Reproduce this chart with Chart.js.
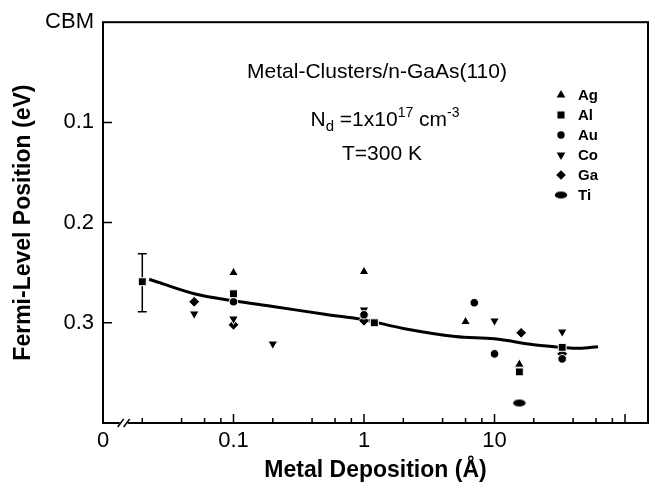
<!DOCTYPE html>
<html lang="en">
<head>
  <meta charset="UTF-8">
  <title>Metal-Clusters / n-GaAs(110) Fermi-Level Position</title>
  <script src="https://cdn.jsdelivr.net/npm/chart.js"></script>
  <style>
    html, body { margin: 0; padding: 0; background: #ffffff; }
    canvas { display: block; }
  </style>
</head>
<body>
  <canvas id="fermiChart" width="655" height="489"></canvas>

  <script>
    // data (x in Angstrom, y in eV below CBM)
    const agX = [0.1, 1, 6, 15.5];
    const agY = [0.250, 0.249, 0.299, 0.3415];
    const alX = [0.02, 0.1, 1.2, 15.5, 33];
    const alY = [0.259, 0.271, 0.300, 0.349, 0.3245];
    const auX = [0.1, 1, 7, 10, 33];
    const auY = [0.279, 0.292, 0.280, 0.331, 0.336];
    const coX = [0.05, 0.1, 0.2, 1, 10, 33];
    const coY = [0.291, 0.296, 0.321, 0.287, 0.298, 0.309];
    const gaX = [0.05, 0.1, 1, 16, 33];
    const gaY = [0.279, 0.302, 0.298, 0.310, 0.331];
    const tiX = [15.5];
    const tiY = [0.380];

    // error bar on the first point
    const errX = [0.02];
    const errY = [0.26];
    const errD = [0.029];

    // fitted curve
    const curveX = [0.0226, 0.05, 0.1, 0.2, 0.5, 1, 2, 5, 10, 20, 33, 45, 62];
    const curveY = [0.2565, 0.271, 0.278, 0.2837, 0.2915, 0.297, 0.3056, 0.3137, 0.316, 0.322, 0.3245, 0.3255, 0.3238];

    const xTicks = [0.01, 0.02, 0.04, 0.06, 0.08, 0.1, 0.2, 0.4, 0.6, 0.8, 1, 2, 4, 6, 8, 10, 20, 40, 60, 80, 100];
    const xLabels = { 0.01: '0', 0.1: '0.1', 1: '1', 10: '10' };
    const yTicks = [0, 0.1, 0.2, 0.3, 0.4];
    const yLabels = { 0: 'CBM', 0.1: '0.1', 0.2: '0.2', 0.3: '0.3' };

    const metals = ['Ag', 'Al', 'Au', 'Co', 'Ga', 'Ti'];

    const FONT = "'Liberation Sans', Arial, sans-serif";

    function ovalImage() {
      const c = document.createElement('canvas');
      c.width = 16; c.height = 11;
      const g = c.getContext('2d');
      g.fillStyle = '#fff';
      g.beginPath(); g.ellipse(8, 5.5, 7.8, 5.3, 0, 0, Math.PI * 2); g.fill();
      g.fillStyle = '#000';
      g.beginPath(); g.ellipse(8, 5.5, 6.2, 3.6, 0, 0, Math.PI * 2); g.fill();
      return c;
    }
    const tiOval = ovalImage();

    const markStyle = {
      Ag: { pointStyle: 'triangle', radius: 5.6, rotation: 0 },
      Al: { pointStyle: 'rect', radius: 5.6, rotation: 0 },
      Au: { pointStyle: 'circle', radius: 4.3, rotation: 0 },
      Co: { pointStyle: 'triangle', radius: 5.6, rotation: 180 },
      Ga: { pointStyle: 'rectRot', radius: 5.4, rotation: 0 },
      Ti: { pointStyle: tiOval, radius: 6, rotation: 0 }
    };

    const pts = (xs, ys) => xs.map((x, i) => ({ x: x, y: ys[i] }));
    const metalData = { Ag: pts(agX, agY), Al: pts(alX, alY), Au: pts(auX, auY), Co: pts(coX, coY), Ga: pts(gaX, gaY), Ti: pts(tiX, tiY) };

    const markerSets = metals.map(m => ({
      type: 'scatter',
      label: m,
      data: metalData[m],
      pointStyle: markStyle[m].pointStyle,
      pointRadius: markStyle[m].radius,
      pointRotation: markStyle[m].rotation,
      backgroundColor: '#000',
      borderColor: '#fff',
      pointBorderWidth: 1,
      order: 0
    }));

    // frame, inward ticks, axis break, error bar, annotations, legend
    const decorPlugin = {
      id: 'decor',
      beforeDatasetsDraw(chart) {
        const ctx = chart.ctx;
        const xs = chart.scales.x, ys = chart.scales.y;
        ctx.save();
        ctx.strokeStyle = '#000';
        ctx.lineWidth = 1.5;
        errX.forEach((x, i) => {
          const px = xs.getPixelForValue(x);
          const top = ys.getPixelForValue(errY[i] - errD[i]);
          const bot = ys.getPixelForValue(errY[i] + errD[i]);
          ctx.beginPath();
          ctx.moveTo(px, top); ctx.lineTo(px, bot);
          ctx.moveTo(px - 4.5, top); ctx.lineTo(px + 4.5, top);
          ctx.moveTo(px - 4.5, bot); ctx.lineTo(px + 4.5, bot);
          ctx.stroke();
        });
        ctx.restore();
      },
      afterDraw(chart) {
        const ctx = chart.ctx;
        const a = chart.chartArea;
        const xs = chart.scales.x, ys = chart.scales.y;
        ctx.save();
        ctx.strokeStyle = '#000';
        ctx.lineWidth = 2;
        ctx.strokeRect(a.left, a.top, a.right - a.left, a.bottom - a.top);

        // inward ticks
        ctx.lineWidth = 1.5;
        ctx.beginPath();
        xTicks.forEach(v => {
          if (v === 0.01) return;
          const px = xs.getPixelForValue(v);
          const major = Math.abs(Math.log10(v) - Math.round(Math.log10(v))) < 1e-6;
          ctx.moveTo(px, a.bottom);
          ctx.lineTo(px, a.bottom - (major ? 9 : 5));
        });
        yTicks.forEach(v => {
          if (v === 0 || v === 0.4) return;
          const py = ys.getPixelForValue(v);
          ctx.moveTo(a.left, py);
          ctx.lineTo(a.left + 9, py);
        });
        ctx.stroke();

        // axis break "//"
        const bx = xs.getPixelForValue(0.0144);
        ctx.fillStyle = '#fff';
        ctx.fillRect(bx - 4, a.bottom - 2, 8, 4);
        ctx.lineWidth = 1.5;
        ctx.beginPath();
        [-3, 3].forEach(d => {
          ctx.moveTo(bx + d - 3, a.bottom + 4);
          ctx.lineTo(bx + d + 3, a.bottom - 4);
        });
        ctx.stroke();

        // annotation text
        ctx.fillStyle = '#000';
        ctx.textBaseline = 'alphabetic';
        ctx.textAlign = 'center';
        ctx.font = '21px ' + FONT;
        ctx.fillText('Metal-Clusters/n-GaAs(110)', 377, 78);
        ctx.fillText('T=300 K', 382, 160);

        // N_d = 1x10^17 cm^-3
        const parts = [
          { t: 'N', s: 21, dy: 0 },
          { t: 'd', s: 15, dy: 5 },
          { t: ' =1x10', s: 21, dy: 0 },
          { t: '17', s: 14, dy: -9 },
          { t: ' cm', s: 21, dy: 0 },
          { t: '-3', s: 14, dy: -9 }
        ];
        let total = 0;
        parts.forEach(p => { ctx.font = p.s + 'px ' + FONT; p.w = ctx.measureText(p.t).width; total += p.w; });
        let cx = 385 - total / 2;
        ctx.textAlign = 'left';
        parts.forEach(p => {
          ctx.font = p.s + 'px ' + FONT;
          ctx.fillText(p.t, cx, 126 + p.dy);
          cx += p.w;
        });

        // legend
        ctx.font = 'bold 15px ' + FONT;
        ctx.textBaseline = 'middle';
        metals.forEach((m, i) => {
          const y = 95 + i * 20;
          const st = markStyle[m];
          ctx.fillStyle = '#000';
          Chart.helpers.drawPoint(ctx, {
            pointStyle: st.pointStyle,
            radius: st.radius - 0.6,
            rotation: st.rotation,
            borderWidth: 0
          }, 561, y);
          ctx.fillStyle = '#000';
          ctx.fillText(m, 578, y + 1);
        });
        ctx.restore();
      }
    };

    new Chart(document.getElementById('fermiChart'), {
      type: 'scatter',
      data: {
        datasets: [
          {
            type: 'line',
            label: 'fit',
            data: pts(curveX, curveY),
            borderColor: '#000',
            borderWidth: 3,
            pointRadius: 0,
            tension: 0.35,
            fill: false,
            order: 10
          },
          ...markerSets
        ]
      },
      options: {
        responsive: false,
        animation: false,
        layout: { padding: { top: 15, right: 2, left: 0, bottom: 0 } },
        plugins: {
          legend: { display: false },
          tooltip: { enabled: false }
        },
        scales: {
          x: {
            type: 'logarithmic',
            min: 0.01,
            max: 150,
            afterBuildTicks: s => { s.ticks = xTicks.map(v => ({ value: v })); },
            afterFit: s => { s.height = 66; },
            grid: { display: false, drawTicks: false },
            border: { display: false },
            ticks: {
              autoSkip: false,
              maxRotation: 0,
              padding: 5,
              color: '#000',
              font: { family: FONT, size: 22 },
              callback: v => xLabels[v] !== undefined ? xLabels[v] : ''
            },
            title: {
              display: true,
              text: 'Metal Deposition (Å)',
              color: '#000',
              font: { family: FONT, size: 23, weight: 'bold' },
              padding: { top: 0, bottom: 5 }
            }
          },
          y: {
            min: 0,
            max: 0.4,
            reverse: true,
            afterBuildTicks: s => { s.ticks = yTicks.map(v => ({ value: v })); },
            afterFit: s => { s.width = 103; },
            grid: { display: false, drawTicks: false },
            border: { display: false },
            ticks: {
              padding: 9,
              color: '#000',
              font: { family: FONT, size: 22 },
              callback: v => yLabels[v] !== undefined ? yLabels[v] : ''
            },
            title: {
              display: true,
              text: 'Fermi-Level Position (eV)',
              color: '#000',
              font: { family: FONT, size: 23, weight: 'bold' },
              padding: { top: 10, bottom: 0 }
            }
          }
        }
      },
      plugins: [decorPlugin]
    });
  </script>
</body>
</html>
